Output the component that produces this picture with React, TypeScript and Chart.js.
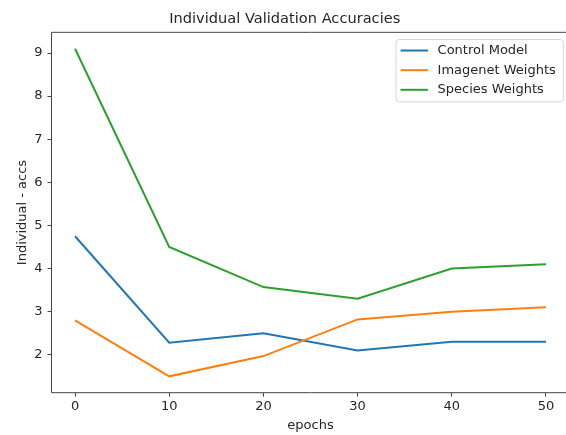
import React, { useEffect, useRef } from "react";
import { Chart, registerables } from "chart.js";

Chart.register(...registerables);

const epochs = [0, 10, 20, 30, 40, 50];
const controlModel = [4.75, 2.28, 2.5, 2.1, 2.3, 2.3];
const imagenetWeights = [2.8, 1.5, 1.97, 2.82, 3.0, 3.1];
const speciesWeights = [9.1, 4.5, 3.57, 3.3, 4.0, 4.1];
const xTicks = [0, 10, 20, 30, 40, 50];
const yTicks = [2, 3, 4, 5, 6, 7, 8, 9];
const seriesLabels = ["Control Model", "Imagenet Weights", "Species Weights"];
const seriesColors = ["#1f77b4", "#ff7f0e", "#2ca02c"];

const FONT = "'DejaVu Sans', sans-serif";
const TEXT = "#262626";
const SPINE = "#444444";

const framePlugin = {
  id: "frame",
  afterDatasetsDraw(chart: any) {
    const { ctx, chartArea } = chart;
    const { left, top, right, bottom } = chartArea;
    ctx.save();
    ctx.strokeStyle = SPINE;
    ctx.lineWidth = 1;
    ctx.beginPath();
    ctx.rect(left, top, right - left, bottom - top);
    ctx.stroke();

    // legend
    ctx.font = `13px ${FONT}`;
    const labels = chart.data.datasets.map((d: any) => d.label);
    const maxW = Math.max(...labels.map((l: string) => ctx.measureText(l).width));
    const boxRight = right - 6.2;
    const boxTop = top + 7.2;
    const boxLeft = boxRight - (41.5 + maxW + 7.5);
    const boxH = 62.3;
    const r = 3;
    ctx.beginPath();
    ctx.moveTo(boxLeft + r, boxTop);
    ctx.lineTo(boxRight - r, boxTop);
    ctx.arcTo(boxRight, boxTop, boxRight, boxTop + r, r);
    ctx.lineTo(boxRight, boxTop + boxH - r);
    ctx.arcTo(boxRight, boxTop + boxH, boxRight - r, boxTop + boxH, r);
    ctx.lineTo(boxLeft + r, boxTop + boxH);
    ctx.arcTo(boxLeft, boxTop + boxH, boxLeft, boxTop + boxH - r, r);
    ctx.lineTo(boxLeft, boxTop + r);
    ctx.arcTo(boxLeft, boxTop, boxLeft + r, boxTop, r);
    ctx.closePath();
    ctx.fillStyle = "rgba(255,255,255,0.8)";
    ctx.fill();
    ctx.strokeStyle = "#d6d6d6";
    ctx.stroke();

    chart.data.datasets.forEach((d: any, i: number) => {
      const y = boxTop + 11 + i * 19.65;
      ctx.strokeStyle = d.borderColor;
      ctx.lineWidth = 2;
      ctx.beginPath();
      ctx.moveTo(boxLeft + 4.5, y);
      ctx.lineTo(boxLeft + 32, y);
      ctx.stroke();
      ctx.fillStyle = TEXT;
      ctx.textBaseline = "middle";
      ctx.textAlign = "left";
      ctx.fillText(d.label, boxLeft + 41.5, y);
    });
    ctx.restore();
  },
};

export default function App() {
  const ref = useRef<HTMLCanvasElement | null>(null);

  useEffect(() => {
    if (!ref.current) return;
    const series = [controlModel, imagenetWeights, speciesWeights];
    const chart = new Chart(ref.current, {
      type: "line",
      data: {
        datasets: series.map((vals, i) => ({
          label: seriesLabels[i],
          data: epochs.map((e, j) => ({ x: e, y: vals[j] })),
          borderColor: seriesColors[i],
          backgroundColor: seriesColors[i],
          borderWidth: 2,
          pointRadius: 0,
          tension: 0,
          fill: false,
          order: 3 - i,
        })),
      },
      options: {
        responsive: false,
        animation: false,
        devicePixelRatio: 1,
        layout: { padding: { left: 0, right: 6.5, top: 0, bottom: 0 } },
        plugins: {
          legend: { display: false },
          tooltip: { enabled: false },
          title: {
            display: true,
            text: "Individual Validation Accuracies",
            color: TEXT,
            font: { family: FONT, size: 14.6, weight: "normal" },
            padding: { top: 10.5, bottom: 4.3 },
          },
        },
        scales: {
          x: {
            type: "linear",
            min: -2.5,
            max: 52.5,
            afterBuildTicks: (s: any) => {
              s.ticks = xTicks.map((v) => ({ value: v }));
            },
            afterFit: (s: any) => {
              s.height = 42.3;
            },
            grid: {
              drawOnChartArea: false,
              drawTicks: true,
              tickLength: 4,
              tickColor: SPINE,
              tickWidth: 1,
            },
            border: { display: false },
            ticks: {
              color: TEXT,
              font: { family: FONT, size: 13 },
              padding: 2,
              maxRotation: 0,
              autoSkip: false,
            },
            title: {
              display: true,
              text: "epochs",
              color: TEXT,
              font: { family: FONT, size: 13 },
              padding: { top: 0, bottom: 1.2 },
            },
          },
          y: {
            type: "linear",
            min: 1.12,
            max: 9.48,
            afterBuildTicks: (s: any) => {
              s.ticks = yTicks.map((v) => ({ value: v }));
            },
            afterFit: (s: any) => {
              s.width = 51.5;
            },
            grid: {
              drawOnChartArea: false,
              drawTicks: true,
              tickLength: 4,
              tickColor: SPINE,
              tickWidth: 1,
            },
            border: { display: false },
            ticks: {
              color: TEXT,
              font: { family: FONT, size: 13 },
              padding: 5,
              autoSkip: false,
            },
            title: {
              display: true,
              text: "Individual - accs",
              color: TEXT,
              font: { family: FONT, size: 13 },
              padding: { top: 15, bottom: 0 },
            },
          },
        },
      },
      plugins: [framePlugin],
    });
    return () => chart.destroy();
  }, []);

  return (
    <div
      style={{
        position: "fixed",
        left: 0,
        top: 0,
        width: 566,
        height: 435,
        overflow: "hidden",
        background: "#ffffff",
      }}
    >
      <canvas
        ref={ref}
        width={576}
        height={435}
        style={{ width: 576, height: 435, display: "block" }}
      />
    </div>
  );
}
